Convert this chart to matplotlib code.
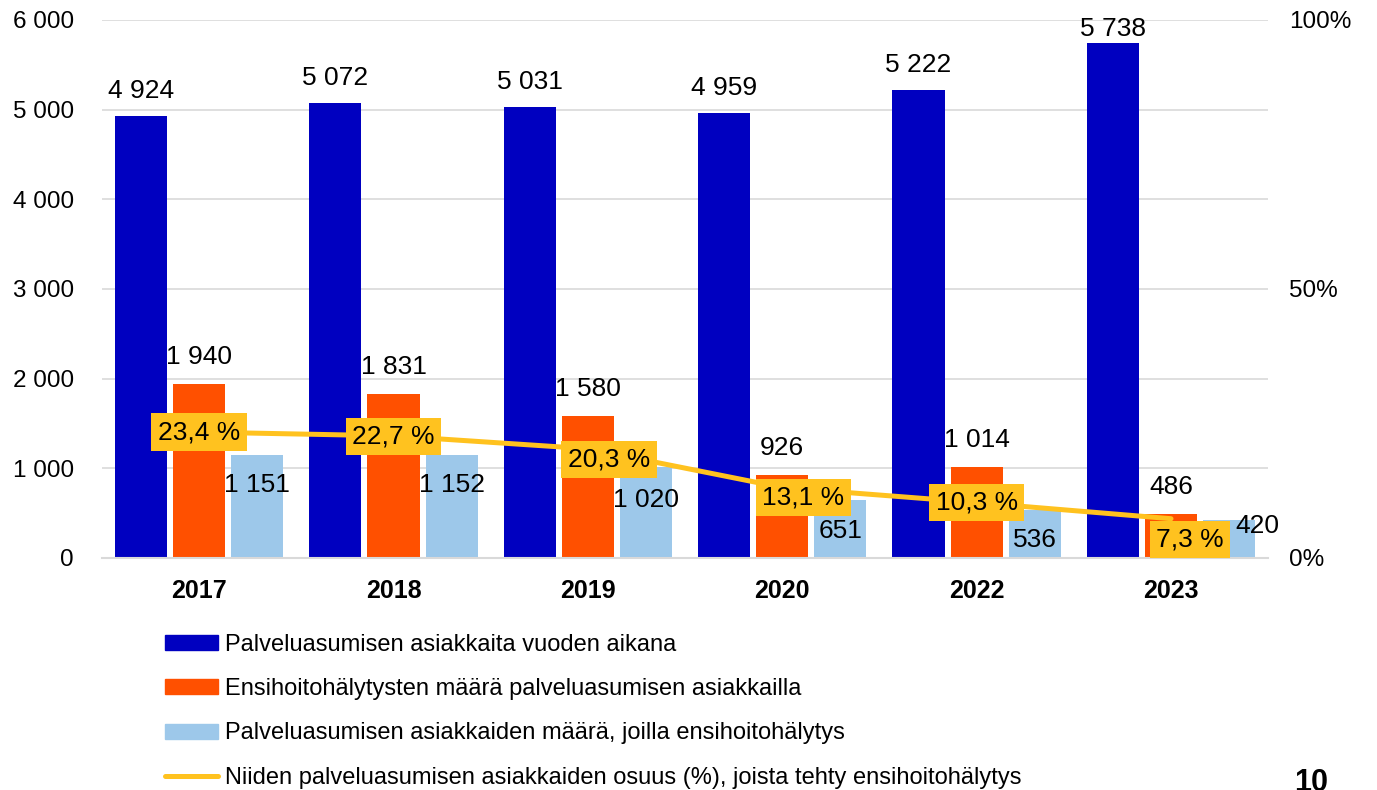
import matplotlib.pyplot as plt
import numpy as np
from matplotlib.patches import Patch
from matplotlib.lines import Line2D

plt.rcParams['font.family'] = ['Liberation Sans', 'DejaVu Sans']

years = ["2017", "2018", "2019", "2020", "2022", "2023"]
asiakkaat = [4924, 5072, 5031, 4959, 5222, 5738]
halytykset = [1940, 1831, 1580, 926, 1014, 486]
asiakkaat_halytys = [1151, 1152, 1020, 651, 536, 420]
osuus = [23.4, 22.7, 20.3, 13.1, 10.3, 7.3]

labels = [
    "Palveluasumisen asiakkaita vuoden aikana",
    "Ensihoitohälytysten määrä palveluasumisen asiakkailla",
    "Palveluasumisen asiakkaiden määrä, joilla ensihoitohälytys",
    "Niiden palveluasumisen asiakkaiden osuus (%), joista tehty ensihoitohälytys",
]

c_blue = "#0000C0"
c_orange = "#FF5000"
c_light = "#9DC8EA"
c_yellow = "#FFC21F"
c_grid = "#D9D9D9"


def fmt(v):
    return f"{v:,}".replace(",", " ")


fig = plt.figure(figsize=(13.77, 7.90), dpi=100)
ax = fig.add_axes([0.074, 0.2937, 0.847, 0.681])
ax2 = ax.twinx()

x = np.arange(len(years))
w = 0.268
step = 0.299

ax.bar(x - step, asiakkaat, w, color=c_blue, zorder=2)
ax.bar(x, halytykset, w, color=c_orange, zorder=2)
ax.bar(x + step, asiakkaat_halytys, w, color=c_light, zorder=2)

ax.set_xlim(-0.5, len(years) - 0.5)
ax.set_ylim(0, 6000)
ax.set_yticks(range(0, 6001, 1000))
ax.set_yticklabels([fmt(v) for v in range(0, 6001, 1000)])
ax.yaxis.grid(True, color=c_grid, lw=1.2, zorder=0)
ax.set_axisbelow(True)
for s in ["top", "left", "right"]:
    ax.spines[s].set_visible(False)
ax.spines["bottom"].set_color(c_grid)
ax.spines["bottom"].set_linewidth(1.5)
ax.tick_params(axis="both", length=0, labelsize=17.5)
ax.tick_params(axis="y", pad=20)
ax.tick_params(axis="x", pad=15)
ax.set_xticks(x)
ax.set_xticklabels(years, fontweight="bold", fontsize=18)

# data labels (offsets in pixels)
blue_off = [25, 25, 25, 25, 25, 14]
for xi, v, dy in zip(x - step, asiakkaat, blue_off):
    ax.annotate(fmt(v), (xi, v), xytext=(0, dy), textcoords="offset pixels",
                ha="center", va="center", fontsize=19)
for xi, v in zip(x, halytykset):
    ax.annotate(fmt(v), (xi, v), xytext=(0, 27), textcoords="offset pixels",
                ha="center", va="center", fontsize=19)
light_off = [(0, -30), (0, -30), (0, -33), (0, -31), (0, -30), (28, -6)]
for xi, v, (dx, dy) in zip(x + step, asiakkaat_halytys, light_off):
    ax.annotate(fmt(v), (xi, v), xytext=(dx, dy), textcoords="offset pixels",
                ha="center", va="center", fontsize=19)

# percentage line on secondary axis
ax2.set_ylim(0, 100)
ax2.set_yticks([0, 50, 100])
ax2.set_yticklabels(["0%", "50%", "100%"])
ax2.tick_params(axis="y", length=0, labelsize=17.5, pad=15)
for s in ax2.spines.values():
    s.set_visible(False)
ax2.plot(x, osuus, color=c_yellow, lw=3.6, zorder=3, solid_capstyle="round")
pct_off = [(0, 0), (0, -1), (21, -11), (21, -10), (0, 0), (19, -21)]
for xi, v, (dx, dy) in zip(x, osuus, pct_off):
    ax2.annotate(f"{v:.1f} %".replace(".", ","), (xi, v), xytext=(dx, dy),
                 textcoords="offset pixels", ha="center", va="center",
                 fontsize=19, zorder=4,
                 bbox=dict(boxstyle="square,pad=0.25", fc=c_yellow, ec="none"))

handles = [
    Patch(color=c_blue),
    Patch(color=c_orange),
    Patch(color=c_light),
    Line2D([], [], color=c_yellow, lw=3.6, solid_capstyle="round"),
]
fig.legend(handles, labels, loc="upper left", bbox_to_anchor=(0.12, 0.198),
           frameon=False, fontsize=17, handlelength=2.25, handletextpad=0.3,
           handleheight=0.6, labelspacing=0.95, borderpad=0, borderaxespad=0)

fig.text(0.952, 1 - 768 / 790, "10", fontsize=22, fontweight="bold",
         ha="center", va="top")

fig.savefig("out.png", dpi=100)
